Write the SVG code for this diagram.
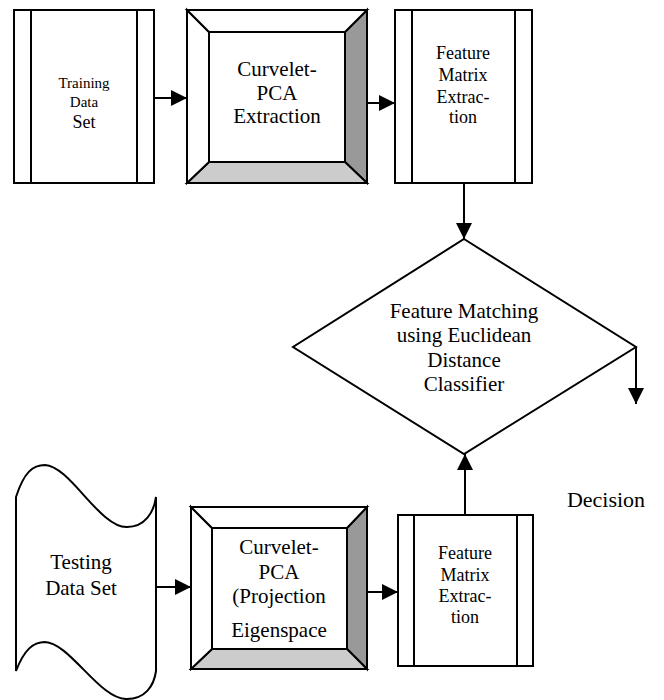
<svg xmlns="http://www.w3.org/2000/svg" width="664" height="700" viewBox="0 0 664 700">
<style>
.s{fill:#fff;stroke:#000;stroke-width:2;stroke-linejoin:miter}
.l{fill:none;stroke:#000;stroke-width:2}
.t{font-family:"Liberation Serif","Times New Roman",serif;fill:#000;text-anchor:middle}
.dk{fill:#999;stroke:#000;stroke-width:2}
.lt{fill:#ccc;stroke:#000;stroke-width:2}
</style>
<defs>
<marker id="ah" markerUnits="userSpaceOnUse" markerWidth="16" markerHeight="16" refX="16" refY="8" orient="auto">
<path d="M0,0 L16,8 L0,16 z" fill="#000"/>
</marker>
</defs>
<rect width="664" height="700" fill="#fff"/>

<g id="training">
<rect class="s" x="14" y="10" width="140" height="173"/>
<line class="l" x1="31" y1="10" x2="31" y2="183"/>
<line class="l" x1="137" y1="10" x2="137" y2="183"/>
<text class="t" x="84" y="88" font-size="15">Training</text>
<text class="t" x="84" y="107" font-size="15">Data</text>
<text class="t" x="84" y="128" font-size="18">Set</text>
</g>

<g id="curvelet-top">
<rect class="s" x="187" y="10" width="180" height="173"/>
<polygon class="dk" points="367,10 367,183 345,162 345,32"/>
<polygon class="lt" points="187,183 367,183 345,162 209,162"/>
<polygon class="s" points="187,10 209,32 209,162 187,183"/>
<polygon class="s" points="187,10 367,10 345,32 209,32"/>
<rect class="s" x="209" y="32" width="136" height="130"/>
<text class="t" x="277" y="76" font-size="21">Curvelet-</text>
<text class="t" x="277" y="100" font-size="21">PCA</text>
<text class="t" x="277" y="123" font-size="21">Extraction</text>
</g>

<g id="feature-top">
<rect class="s" x="395" y="10" width="137" height="173"/>
<line class="l" x1="412" y1="10" x2="412" y2="183"/>
<line class="l" x1="515" y1="10" x2="515" y2="183"/>
<text class="t" x="463" y="59" font-size="18">Feature</text>
<text class="t" x="463" y="81" font-size="18">Matrix</text>
<text class="t" x="463" y="103" font-size="18">Extrac-</text>
<text class="t" x="463" y="123" font-size="18">tion</text>
</g>

<g id="matching">
<polygon class="s" points="464,239 636,347 464,454 293,347"/>
<text class="t" x="464" y="318" font-size="21">Feature Matching</text>
<text class="t" x="464" y="342" font-size="21">using Euclidean</text>
<text class="t" x="464" y="367" font-size="21">Distance</text>
<text class="t" x="464" y="391" font-size="21">Classifier</text>
</g>

<g id="testing">
<path class="s" d="M16,497 C24,472 33,465 45,465 C70,466 100,528 127,527 C145,527 154,512 156,497 L156,671 C154,686 145,699 127,699 C100,700 70,643 45,642 C33,642 24,650 16,671 Z"/>
<text class="t" x="81" y="569" font-size="21">Testing</text>
<text class="t" x="81" y="595" font-size="21">Data Set</text>
</g>

<g id="curvelet-bottom">
<rect class="s" x="191" y="507" width="176" height="162"/>
<polygon class="dk" points="367,507 367,669 347,649 347,528"/>
<polygon class="lt" points="191,669 367,669 347,649 212,649"/>
<polygon class="s" points="191,507 212,528 212,649 191,669"/>
<polygon class="s" points="191,507 367,507 347,528 212,528"/>
<rect class="s" x="212" y="528" width="135" height="121"/>
<text class="t" x="279" y="554" font-size="21">Curvelet-</text>
<text class="t" x="279" y="579" font-size="21">PCA</text>
<text class="t" x="279" y="603" font-size="21">(Projection</text>
<text class="t" x="279" y="637" font-size="21">Eigenspace</text>
</g>

<g id="feature-bottom">
<rect class="s" x="398" y="515" width="135" height="151"/>
<line class="l" x1="414" y1="515" x2="414" y2="666"/>
<line class="l" x1="517" y1="515" x2="517" y2="666"/>
<text class="t" x="465" y="559" font-size="18">Feature</text>
<text class="t" x="465" y="581" font-size="18">Matrix</text>
<text class="t" x="465" y="602" font-size="18">Extrac-</text>
<text class="t" x="465" y="623" font-size="18">tion</text>
</g>

<g id="decision">
<text class="t" x="606" y="507" font-size="22">Decision</text>
</g>

<g id="connectors">
<line class="l" x1="154" y1="98" x2="187" y2="98" marker-end="url(#ah)"/>
<line class="l" x1="367" y1="103" x2="395" y2="103" marker-end="url(#ah)"/>
<line class="l" x1="464" y1="183" x2="464" y2="239" marker-end="url(#ah)"/>
<line class="l" x1="636" y1="347" x2="636" y2="404" marker-end="url(#ah)"/>
<line class="l" x1="156" y1="587" x2="191" y2="587" marker-end="url(#ah)"/>
<line class="l" x1="367" y1="592" x2="398" y2="592" marker-end="url(#ah)"/>
<line class="l" x1="465" y1="515" x2="465" y2="454" marker-end="url(#ah)"/>
</g>
</svg>
